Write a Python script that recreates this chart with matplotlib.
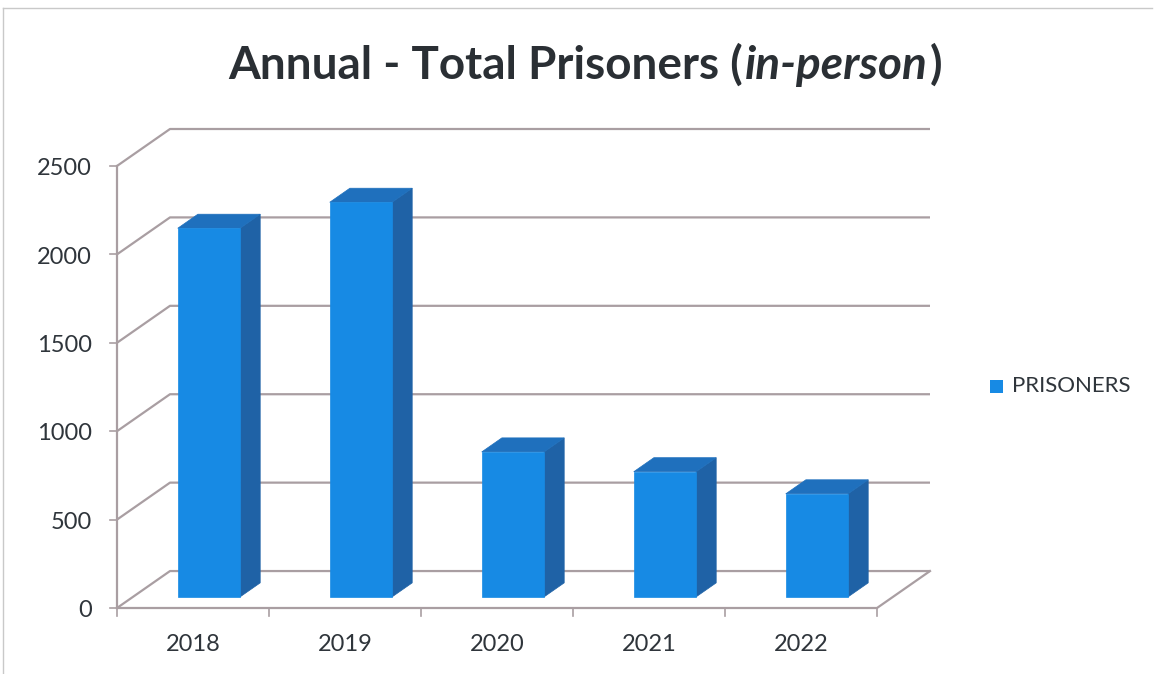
import matplotlib
matplotlib.use("Agg")
import matplotlib.pyplot as plt
from matplotlib.patches import Polygon, Rectangle
from matplotlib.lines import Line2D

# ---- data ----
years = ["2018", "2019", "2020", "2021", "2022"]
prisoners = [2085, 2232, 820, 708, 583]
y_ticks = [0, 500, 1000, 1500, 2000, 2500]
series_name = "PRISONERS"
title_plain = "Annual - Total Prisoners ("
title_italic = "in-person"
title_end = ")"

# ---- style ----
W, H = 1156, 674
FONT = ["Lato", "DejaVu Sans"]
TXT = "#2f353b"
GRID = "#a99ea2"
FRONT = "#178ae4"
SIDE = "#1f62a6"
TOP = "#1f70bd"

fig = plt.figure(figsize=(W / 100, H / 100), dpi=100)
fig.patch.set_facecolor("white")

n = len(years)
ymax = y_ticks[-1]
DX = 53 / 152.0          # depth offset in category units
DY = 209.0               # depth offset in value units

ax = fig.add_axes([117 / W, (H - 608) / H, 813 / W, 479 / H])
ax.set_xlim(0, n + DX)
ax.set_ylim(0, ymax + DY)
ax.axis("off")

# back wall gridlines with side-wall diagonals
for v in y_ticks:
    ax.plot([0, DX, n + DX], [v, v + DY, v + DY], color=GRID, lw=1.6,
            clip_on=False, zorder=1, solid_capstyle="butt")
    ax.plot([-0.045, 0], [v, v], color=GRID, lw=1.2, clip_on=False, zorder=1)
    ax.text(-0.165, v - 15, str(v), ha="right", va="center", fontsize=17,
            color=TXT, family=FONT)

# front vertical axis
ax.plot([0, 0], [0, ymax], color=GRID, lw=1.6, clip_on=False, zorder=1)
# floor front and right edges
ax.plot([0, n, n + DX], [0, 0, DY], color=GRID, lw=1.6, clip_on=False, zorder=1)
# x ticks
for i in range(n + 1):
    ax.plot([i, i], [0, -45], color=GRID, lw=1.2, clip_on=False, zorder=1)
for i, lab in enumerate(years):
    ax.text(i + 0.5, -205, lab, ha="center", va="center", fontsize=17,
            color=TXT, family=FONT)

# 3-D looking bars
bw = 0.41
d0 = 0.30
dd = 0.38
for i, v in enumerate(prisoners):
    x0 = i + 0.5 - bw / 2 + d0 * DX
    y0 = d0 * DY
    ox, oy = dd * DX, dd * DY
    side = Polygon([(x0 + bw, y0), (x0 + bw + ox, y0 + oy),
                    (x0 + bw + ox, y0 + v + oy), (x0 + bw, y0 + v)],
                   closed=True, facecolor=SIDE, edgecolor=SIDE, lw=0.5,
                   zorder=3, clip_on=False)
    top = Polygon([(x0, y0 + v), (x0 + bw, y0 + v),
                   (x0 + bw + ox, y0 + v + oy), (x0 + ox, y0 + v + oy)],
                  closed=True, facecolor=TOP, edgecolor=TOP, lw=0.5,
                  zorder=3, clip_on=False)
    front = Rectangle((x0, y0), bw, v, facecolor=FRONT, edgecolor=FRONT,
                      lw=0.5, zorder=4, clip_on=False)
    ax.add_patch(side)
    ax.add_patch(top)
    ax.add_patch(front)

# legend
fig.patches.append(Rectangle((990 / W, (H - 393) / H), 13 / W, 13 / H,
                             transform=fig.transFigure, facecolor=FRONT,
                             edgecolor="none"))
fig.text(1012 / W, (H - 386) / H, series_name, ha="left", va="center",
         fontsize=16, color=TXT, family=FONT)

# title built from pieces (bold, bold-italic, bold)
fig.canvas.draw()
renderer = fig.canvas.get_renderer()
base_y = (H - 79) / H
pieces = [(title_plain, "normal"), (title_italic, "italic"), (title_end, "normal")]
texts = []
for s, st in pieces:
    t = fig.text(0, base_y, s, ha="left", va="baseline", fontsize=33,
                 fontweight="bold", style=st, color="#2a2f34", family=FONT)
    texts.append(t)
widths = [t.get_window_extent(renderer).width for t in texts]
total = sum(widths)
x = 583 - total / 2
for t, w in zip(texts, widths):
    t.set_x(x / W)
    x += w + 2

# scan border
fig.add_artist(Line2D([3 / W, 1152 / W], [(H - 8) / H, (H - 8) / H],
                      transform=fig.transFigure, color="#c9c9c9", lw=1))
fig.add_artist(Line2D([3 / W, 3 / W], [0, (H - 8) / H],
                      transform=fig.transFigure, color="#c9c9c9", lw=1))

fig.savefig("out.png", dpi=100, facecolor="white")
